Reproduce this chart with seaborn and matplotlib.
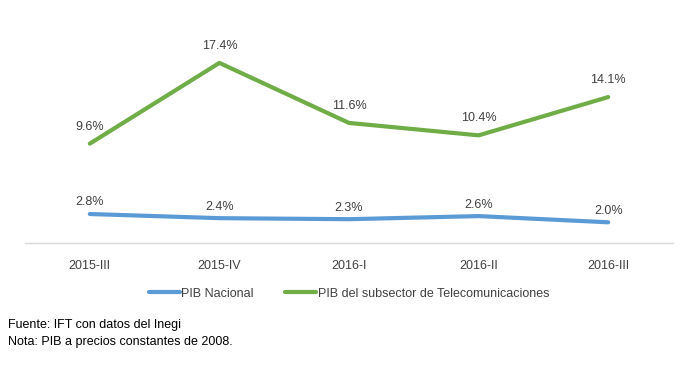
import pandas as pd
import matplotlib
matplotlib.use("Agg")
import matplotlib.pyplot as plt
import seaborn as sns

# --- data ---
periodos = ["2015-III", "2015-IV", "2016-I", "2016-II", "2016-III"]
pib_nacional = [2.8, 2.4, 2.3, 2.6, 2.0]
pib_telecom = [9.6, 17.4, 11.6, 10.4, 14.1]
series_names = ["PIB Nacional", "PIB del subsector de Telecomunicaciones"]
fuente = "Fuente: IFT con datos del Inegi"
nota = "Nota: PIB a precios constantes de 2008."

df = pd.DataFrame({
    "periodo": periodos * 2,
    "x": list(range(len(periodos))) * 2,
    "valor": pib_nacional + pib_telecom,
    "serie": [series_names[0]] * len(periodos) + [series_names[1]] * len(periodos),
})

sns.set_style("white")
plt.rcParams["font.family"] = ["Liberation Sans", "DejaVu Sans"]
txt_color = "#404040"
palette = {series_names[0]: "#5B9BD5", series_names[1]: "#70AD47"}
label_offset = {series_names[0]: 4, series_names[1]: 8}

fig = plt.figure(figsize=(6.91, 3.75), dpi=100)
ax = fig.add_axes([25 / 691, 1 - 243 / 375, 648 / 691, 207 / 375])

sns.lineplot(data=df, x="x", y="valor", hue="serie", palette=palette,
             linewidth=3, ax=ax, legend=True, solid_capstyle="round")

# data labels
for _, row in df.iterrows():
    ax.annotate(f"{row['valor']:.1f}%", (row["x"], row["valor"]),
                xytext=(0, label_offset[row["serie"]]), textcoords="offset points",
                ha="center", va="bottom", fontsize=9, color=txt_color)

ax.set_xlim(-0.5, len(periodos) - 0.5)
ax.set_ylim(0, 20)
ax.set_xticks(range(len(periodos)))
ax.set_xticklabels(periodos, fontsize=9, color=txt_color)
ax.set_yticks([])
ax.tick_params(axis="x", length=0, pad=12)
ax.set_xlabel("")
ax.set_ylabel("")
for s in ["top", "left", "right"]:
    ax.spines[s].set_visible(False)
ax.spines["bottom"].set_color("#D9D9D9")
ax.spines["bottom"].set_linewidth(1)

leg = ax.legend(loc="center", bbox_to_anchor=(0.5, -0.245), ncol=2, frameon=False,
                fontsize=9, handlelength=2.5, handletextpad=0.1, columnspacing=2.5)
for t in leg.get_texts():
    t.set_color(txt_color)

fig.text(8 / 691, 1 - 325 / 375, fuente, fontsize=9, va="center", color="black")
fig.text(8 / 691, 1 - 342 / 375, nota, fontsize=9, va="center", color="black")

fig.savefig("out.png", dpi=100)
